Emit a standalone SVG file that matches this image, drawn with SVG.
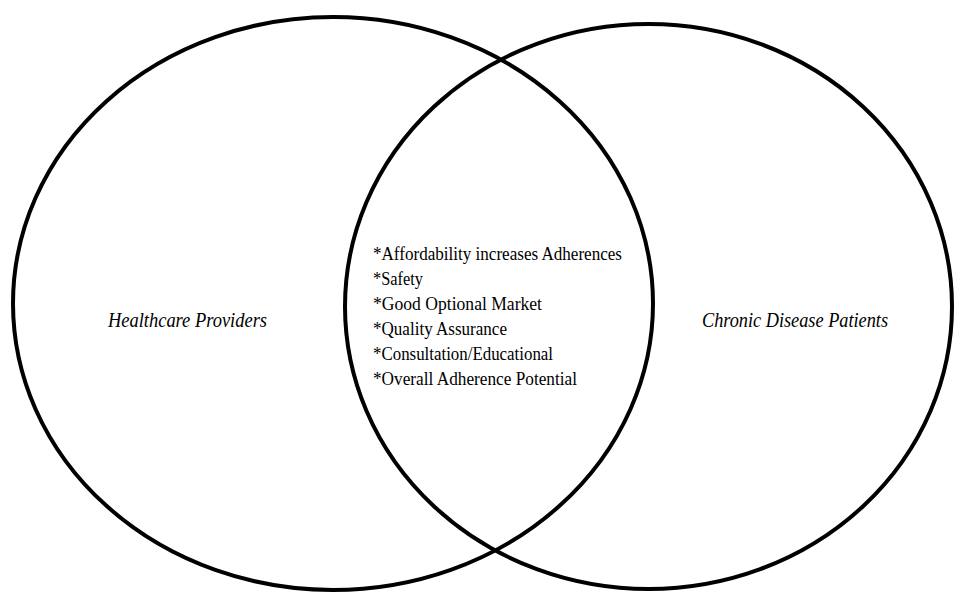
<svg xmlns="http://www.w3.org/2000/svg" width="955" height="593" viewBox="0 0 955 593">
<style>
.c{fill:none;stroke:#000;stroke-width:4}
text{font-family:'Liberation Serif','DejaVu Serif',serif;fill:#000}
.t{font-size:19px}
.i{font-size:20px;font-style:italic}
</style>
<rect width="955" height="593" fill="#fff"/>
<g id="left-set">
<ellipse class="c" cx="333" cy="303.5" rx="320" ry="286.5"/>
<text class="i" x="108" y="327" textLength="159" lengthAdjust="spacingAndGlyphs">Healthcare Providers</text>
</g>
<g id="right-set">
<ellipse class="c" cx="648.5" cy="306.5" rx="303.5" ry="282.5"/>
<text class="i" x="702" y="327" textLength="186" lengthAdjust="spacingAndGlyphs">Chronic Disease Patients</text>
</g>
<g id="overlap">
<text class="t" x="373" y="260" textLength="249" lengthAdjust="spacingAndGlyphs">*Affordability increases Adherences</text>
<text class="t" x="373" y="285" textLength="50" lengthAdjust="spacingAndGlyphs">*Safety</text>
<text class="t" x="373" y="310" textLength="169" lengthAdjust="spacingAndGlyphs">*Good Optional Market</text>
<text class="t" x="373" y="335" textLength="134" lengthAdjust="spacingAndGlyphs">*Quality Assurance</text>
<text class="t" x="373" y="360" textLength="180" lengthAdjust="spacingAndGlyphs">*Consultation/Educational</text>
<text class="t" x="373" y="385" textLength="204" lengthAdjust="spacingAndGlyphs">*Overall Adherence Potential</text>
</g>
<g id="connectors"></g>
</svg>
